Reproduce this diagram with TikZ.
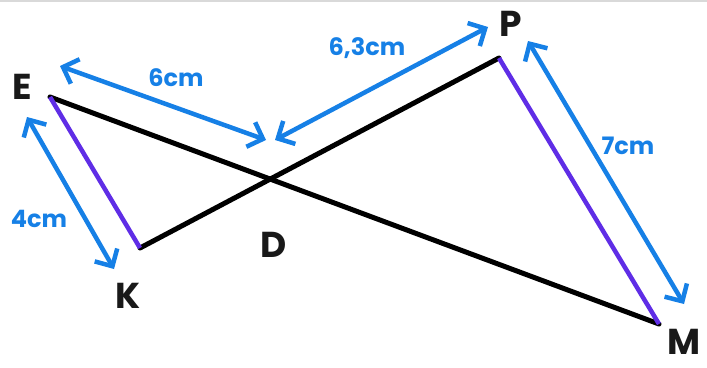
\documentclass[tikz,border=0pt]{standalone}
\usepackage{fontspec}
\setmainfont{Poppins}
\usetikzlibrary{arrows.meta}
\definecolor{dimblue}{RGB}{22,128,230}
\definecolor{sidepurple}{RGB}{95,45,230}
\begin{document}
\begin{tikzpicture}[x=1pt,y=-1pt,
  seg/.style={line width=5pt,black,line cap=round},
  eqside/.style={line width=4.5pt,sidepurple},
  dim/.style={line width=4.5pt,dimblue,{Straight Barb[length=13pt,width=26pt,line width=4.5pt]}-{Straight Barb[length=13pt,width=26pt,line width=4.5pt]}},
  vlabel/.style={font=\fontsize{36}{36}\selectfont\bfseries,text=black!90,inner sep=0pt},
  dlabel/.style={font=\fontsize{24}{24}\selectfont\bfseries,text=dimblue,inner sep=0pt}]
\useasboundingbox (0,0) rectangle (707,367);
\fill[white] (0,0) rectangle (707,367);
\draw[black!15,line width=1.5pt] (0,0.75) -- (707,0.75);
% vertices
\coordinate (E) at (50,97);
\coordinate (K) at (140,248);
\coordinate (P) at (499,58);
\coordinate (M) at (659,324);
% sides
\draw[seg] (E) -- (M);
\draw[seg] (K) -- (P);
\draw[eqside] (E) -- (K);
\draw[eqside] (P) -- (M);
% labels
\node[vlabel] (lE) at (22,87) {E};
\node[vlabel] (lK) at (128,296) {K};
\node[vlabel] (lD) at (274,245) {D};
\node[vlabel] (lP) at (511,24) {P};
\node[vlabel] (lM) at (684,342) {M};
% dimension arrows
\coordinate (a1) at (60,66);
\coordinate (a2) at (266,140);
\coordinate (b1) at (275,140);
\coordinate (b2) at (488,27);
\coordinate (c1) at (27,117);
\coordinate (c2) at (114,269);
\coordinate (d1) at (528,41);
\coordinate (d2) at (684,304);
\draw[dim] (a1) -- (a2);
\draw[dim] (b1) -- (b2);
\draw[dim] (c1) -- (c2);
\draw[dim] (d1) -- (d2);
\node[dlabel] (l6) at (176,78) {6cm};
\node[dlabel] (l63) at (367,48) {6,3cm};
\node[dlabel] (l4) at (39,219) {4cm};
\node[dlabel] (l7) at (628,146) {7cm};
\end{tikzpicture}
\end{document}
